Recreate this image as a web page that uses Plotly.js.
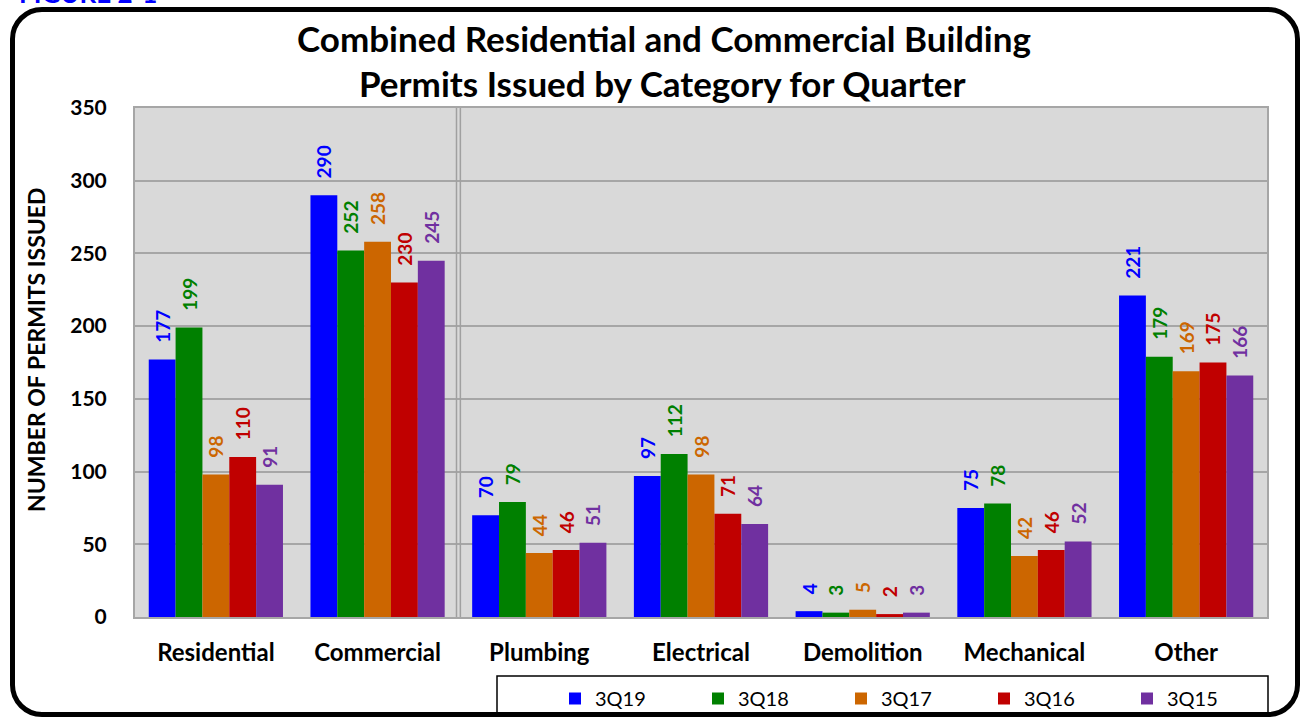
<!DOCTYPE html>
<html><head><meta charset="utf-8">
<script src="https://cdn.plot.ly/plotly-3.0.1.min.js"></script>
<style>
html,body{margin:0;padding:0;background:#fff;}
#wrap{position:relative;width:1301px;height:717px;overflow:hidden;}
#frame{position:absolute;left:10px;top:7px;width:1280px;height:700px;border:5px solid #000;border-radius:32px;pointer-events:none;}
#chart{position:absolute;left:0;top:0;width:1301px;height:717px;}
</style></head>
<body><div id="wrap"><div id="chart"></div><div id="frame"></div></div>
<script>
const categories = ['Residential','Commercial','Plumbing','Electrical','Demolition','Mechanical','Other'];
const seriesNames = ['3Q19','3Q18','3Q17','3Q16','3Q15'];
const q3_19 = [177, 290, 70, 97, 4, 75, 221];
const q3_18 = [199, 252, 79, 112, 3, 78, 179];
const q3_17 = [98, 258, 44, 98, 5, 42, 169];
const q3_16 = [110, 230, 46, 71, 2, 46, 175];
const q3_15 = [91, 245, 51, 64, 3, 52, 166];
const colors = ['#0000ff','#008000','#cc6600','#c00000','#7030a0'];
const seriesValues = [q3_19, q3_18, q3_17, q3_16, q3_15];
const F = 'Lato, "Open Sans", sans-serif';

const traces = seriesValues.map((vals, i) => ({
  type: 'bar', name: seriesNames[i], x: categories, y: vals,
  marker: {color: colors[i], line: {width: 0}},
  text: vals.map(v => '\u00a0\u00a0\u00a0' + v), textposition: 'outside', textangle: -90,
  constraintext: 'none', cliponaxis: false,
  textfont: {family: F, size: 19, color: colors[i], weight: 'bold'},
  hoverinfo: 'skip'
}));

const L = 135, R = 1267, T = 108, B = 617;
const px = x => (x - L) / (R - L);
const py = y => (B - y) / (B - T);

const layout = {
  width: 1301, height: 717,
  margin: {l: L, r: 1301 - R, t: T, b: 717 - B, autoexpand: false},
  paper_bgcolor: 'rgba(0,0,0,0)', plot_bgcolor: '#d9d9d9',
  barmode: 'group', bargap: 0.17, bargroupgap: 0,
  font: {family: F, color: '#000'},
  xaxis: {type: 'category', showgrid: false, showline: true, linecolor: '#a6a6a6', linewidth: 2, mirror: true,
    ticks: '', tickfont: {family: F, size: 24, weight: 'bold'}, ticklabelstandoff: 13, fixedrange: true},
  yaxis: {range: [0, 350], dtick: 50, showgrid: true, gridcolor: '#a6a6a6', gridwidth: 2,
    showline: true, linecolor: '#a6a6a6', linewidth: 2, mirror: true, zeroline: false,
    ticks: '', tickfont: {family: F, size: 21, weight: 'bold'}, ticklabelstandoff: 22,
    fixedrange: true},
  showlegend: true,
  legend: {orientation: 'h', xref: 'container', yref: 'container', x: 555 / 1301, xanchor: 'left',
    y: 1 - 679 / 717, yanchor: 'top',
    font: {family: F, size: 20}, entrywidth: 98, entrywidthmode: 'pixels',
    bgcolor: 'rgba(0,0,0,0)', borderwidth: 0, traceorder: 'normal', itemwidth: 30},
  shapes: [
    {type: 'line', xref: 'x', yref: 'paper', x0: 1.488, x1: 1.488, y0: 0, y1: 1, line: {color: '#a0a0a0', width: 1.5}},
    {type: 'line', xref: 'x', yref: 'paper', x0: 1.512, x1: 1.512, y0: 0, y1: 1, line: {color: '#a0a0a0', width: 1.5}},
    {type: 'rect', xref: 'paper', yref: 'paper', x0: px(497), x1: px(1268), y0: py(676), y1: py(740),
      line: {color: '#000', width: 1.5}, fillcolor: 'rgba(0,0,0,0)'}
  ],
  annotations: [
    {text: 'FIGURE 2-1', xref: 'paper', yref: 'paper', x: px(17), y: py(-7), xanchor: 'left', yanchor: 'middle',
      showarrow: false, font: {family: F, size: 26, weight: 'bold', color: '#0000ff'}},
    {text: 'Combined Residential and Commercial Building', xref: 'paper', yref: 'paper', x: px(664), y: py(38),
      xanchor: 'center', yanchor: 'middle', showarrow: false, font: {family: F, size: 35, weight: 'bold'}},
    {text: 'Permits Issued by Category for Quarter', xref: 'paper', yref: 'paper', x: px(662), y: py(83),
      xanchor: 'center', yanchor: 'middle', showarrow: false, font: {family: F, size: 35, weight: 'bold'}},
    {text: 'NUMBER OF PERMITS ISSUED', xref: 'paper', yref: 'paper', x: px(36), y: py(350),
      xanchor: 'center', yanchor: 'middle', textangle: -90, showarrow: false,
      font: {family: F, size: 23, weight: 'bold'}}
  ]
};
Plotly.newPlot('chart', traces, layout, {displayModeBar: false, staticPlot: true});
</script></body></html>
